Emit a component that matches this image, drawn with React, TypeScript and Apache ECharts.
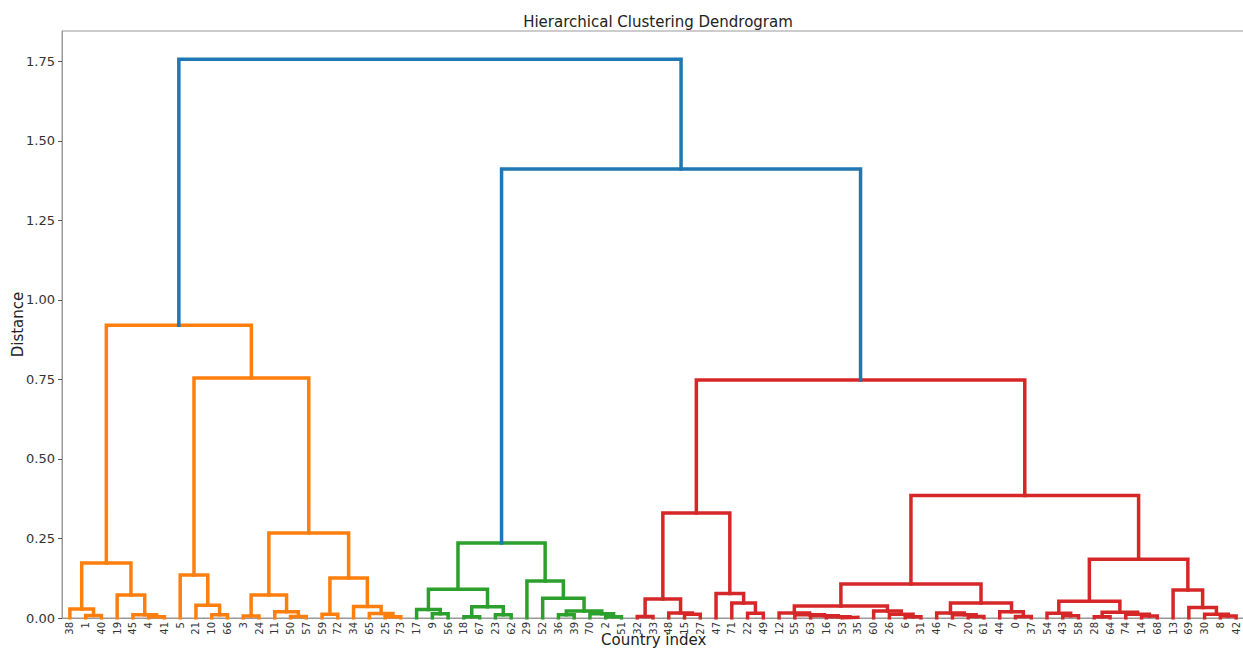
import React, { useEffect, useRef } from "react";
import * as echarts from "echarts";

// Leaf order along the x axis (country indices)
const leafOrder: number[] = [
  38, 1, 40, 19, 45, 4, 41, 5, 21, 10, 66, 3, 24, 11, 50, 57, 59, 72, 34, 65, 25, 73,
  17, 9, 56, 18, 67, 23, 62, 29, 52, 36, 39, 70, 2, 51,
  32, 33, 48, 15, 27, 47, 71, 22, 49, 12, 55, 63, 16, 53, 35, 60, 26, 6, 31,
  46, 7, 20, 61, 44, 0, 37, 54, 43, 58, 28, 64, 74, 14, 68, 13, 69, 30, 8, 42,
];

// Links: [id, left child, right child, merge distance]; numbers are leaves, strings are links
type Ref = number | string;
const orangeLinks: [string, Ref, Ref, number][] = [
  ["o1", 1, 40, 0.008], ["o2", 38, "o1", 0.028], ["o3", 4, 41, 0.004], ["o4", 45, "o3", 0.01],
  ["o5", 19, "o4", 0.072], ["o6", "o2", "o5", 0.173], ["o7", 10, 66, 0.01], ["o8", 21, "o7", 0.04],
  ["o9", 5, "o8", 0.135], ["o10", 3, 24, 0.006], ["o11", 50, 57, 0.005], ["o12", 11, "o11", 0.02],
  ["o13", "o10", "o12", 0.072], ["o14", 59, 72, 0.012], ["o15", 25, 73, 0.004], ["o16", 65, "o15", 0.014],
  ["o17", 34, "o16", 0.036], ["o18", "o14", "o17", 0.126], ["o19", "o13", "o18", 0.267],
  ["o20", "o9", "o19", 0.754], ["o21", "o6", "o20", 0.92],
];
const greenLinks: [string, Ref, Ref, number][] = [
  ["g1", 9, 56, 0.013], ["g2", 17, "g1", 0.027], ["g3", 18, 67, 0.004], ["g4", 23, 62, 0.01],
  ["g5", "g3", "g4", 0.035], ["g6", "g2", "g5", 0.09], ["g7", 36, 39, 0.01], ["g8", 2, 51, 0.004],
  ["g9", 70, "g8", 0.013], ["g10", "g7", "g9", 0.022], ["g11", 52, "g10", 0.062],
  ["g12", 29, "g11", 0.116], ["g13", "g6", "g12", 0.236],
];
const redLinks: [string, Ref, Ref, number][] = [
  ["r1", 32, 33, 0.005], ["r2", 15, 27, 0.012], ["r3", 48, "r2", 0.016], ["r4", "r1", "r3", 0.06],
  ["r5", 22, 49, 0.015], ["r6", 71, "r5", 0.047], ["r7", 47, "r6", 0.077], ["r8", "r4", "r7", 0.33],
  ["r9", 53, 35, 0.002], ["r10", 16, "r9", 0.004], ["r11", 63, "r10", 0.007], ["r12", 55, "r11", 0.01],
  ["r13", 12, "r12", 0.016], ["r14", 6, 31, 0.004], ["r15", 26, "r14", 0.012], ["r16", 60, "r15", 0.022],
  ["r17", "r13", "r16", 0.038], ["r18", 20, 61, 0.005], ["r19", 7, "r18", 0.01], ["r20", 46, "r19", 0.016],
  ["r21", 0, 37, 0.005], ["r22", 44, "r21", 0.02], ["r23", "r20", "r22", 0.047], ["r24", "r17", "r23", 0.107],
  ["r25", 43, 58, 0.007], ["r26", 54, "r25", 0.015], ["r27", 28, 64, 0.004], ["r28", 14, 68, 0.006],
  ["r29", 74, "r28", 0.012], ["r30", "r27", "r29", 0.018], ["r31", "r26", "r30", 0.053],
  ["r32", 8, 42, 0.006], ["r33", 30, "r32", 0.012], ["r34", 69, "r33", 0.033], ["r35", 13, "r34", 0.088],
  ["r36", "r31", "r35", 0.185], ["r37", "r24", "r36", 0.385], ["r38", "r8", "r37", 0.748],
];
const blueLinks: [string, Ref, Ref, number][] = [
  ["b1", "g13", "r38", 1.411], ["b2", "o21", "b1", 1.756],
];

const yTicks: number[] = [0, 0.25, 0.5, 0.75, 1.0, 1.25, 1.5, 1.75];

const groups: { links: [string, Ref, Ref, number][]; color: string }[] = [
  { links: orangeLinks, color: "#ff7f0e" },
  { links: greenLinks, color: "#2ca02c" },
  { links: redLinks, color: "#d62728" },
  { links: blueLinks, color: "#1f77b4" },
];

function buildSeries() {
  const pos: Record<string, [number, number]> = {};
  leafOrder.forEach((lab, i) => {
    pos["L" + lab] = [5 + 10 * i, 0];
  });
  const key = (r: Ref) => (typeof r === "number" ? "L" + r : r);
  const series: any[] = [];
  groups.forEach((g) => {
    g.links.forEach(([id, l, r, h]) => {
      const a = pos[key(l)];
      const b = pos[key(r)];
      pos[id] = [(a[0] + b[0]) / 2, h];
      series.push({
        type: "line",
        xAxisIndex: 1,
        yAxisIndex: 0,
        data: [
          [a[0], a[1]],
          [a[0], h],
          [b[0], h],
          [b[0], b[1]],
        ],
        symbol: "none",
        silent: true,
        lineStyle: { color: g.color, width: 3.5, cap: "square", join: "miter" },
        z: 3,
      });
    });
  });
  return series;
}

export default function App() {
  const ref = useRef<HTMLDivElement>(null);
  useEffect(() => {
    if (!ref.current) return;
    const chart = echarts.init(ref.current, undefined, { renderer: "svg" });
    const font = "DejaVu Sans";
    chart.setOption({
      animation: false,
      backgroundColor: "#ffffff",
      textStyle: { fontFamily: font },
      title: {
        text: "Hierarchical Clustering Dendrogram",
        left: 653,
        textAlign: "center",
        top: 9,
        textStyle: { fontSize: 15, fontWeight: "normal", color: "#222", fontFamily: font },
      },
      graphic: [
        {
          type: "text",
          left: 601,
          top: 632,
          silent: true,
          style: {
            text: "Country index",
            fontSize: 15,
            fill: "#222",
            fontFamily: font,
          },
        },
      ],
      grid: {
        left: 62,
        top: 31,
        width: 1182,
        height: 587,
        show: true,
        borderColor: "#999",
        borderWidth: 1,
        backgroundColor: "transparent",
        outerBoundsMode: "none",
        containLabel: false,
      },
      xAxis: [
        {
          type: "category",
          data: leafOrder.map(String),
          boundaryGap: true,
          position: "bottom",
          axisLine: { show: true, lineStyle: { color: "#999", width: 1 } },
          axisTick: { show: false },
          axisLabel: {
            interval: 0,
            rotate: 90,
            fontSize: 10,
            color: "#333",
            margin: 4,
            fontFamily: font,
          },
          splitLine: { show: false },
        },
        {
          type: "value",
          min: 0,
          max: 750,
          show: false,
          splitLine: { show: false },
        },
      ],
      yAxis: {
        type: "value",
        min: 0,
        max: 1.845,
        interval: 0.25,
        axisLine: { show: true, lineStyle: { color: "#999", width: 1 } },
        axisTick: { show: true, length: 4, lineStyle: { color: "#555" } },
        axisLabel: {
          fontSize: 13,
          color: "#333",
          margin: 7,
          fontFamily: font,
          showMaxLabel: false,
          formatter: (v: number) =>
            yTicks.some((t) => Math.abs(t - v) < 1e-6) ? v.toFixed(2) : "",
        },
        splitLine: { show: false },
        name: "Distance",
        nameLocation: "middle",
        nameGap: 37,
        nameMoveOverlap: false,
        nameTextStyle: { fontSize: 15, color: "#222", fontFamily: font },
      },
      series: buildSeries(),
    });
    return () => chart.dispose();
  }, []);
  return (
    <div
      ref={ref}
      style={{ position: "absolute", left: 0, top: 0, width: 1243, height: 648 }}
    />
  );
}
